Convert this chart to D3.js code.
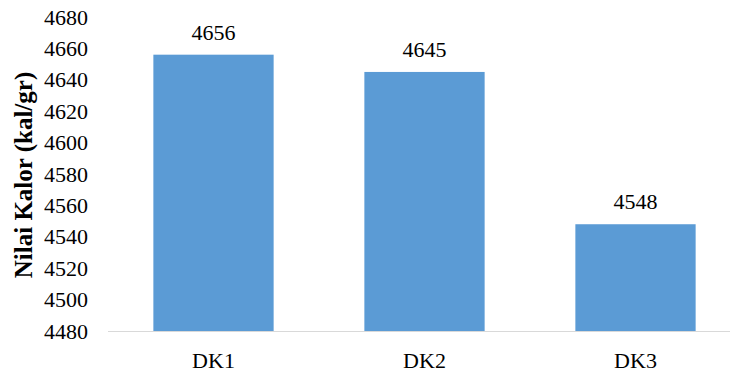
<!DOCTYPE html>
<html>
<head>
<meta charset="utf-8">
<script src="https://cdn.jsdelivr.net/npm/d3@7"></script>
<style>
  html, body { margin: 0; padding: 0; background: #fff; }
  svg { display: block; }
</style>
</head>
<body>
<svg id="chart" width="730" height="374"></svg>
<script>
// Calorific value per sample
const categories = ["DK1", "DK2", "DK3"];
const values = [4656, 4645, 4548];
const yTicks = [4480, 4500, 4520, 4540, 4560, 4580, 4600, 4620, 4640, 4660, 4680];
const yTitle = "Nilai Kalor (kal/gr)";

const FONT = "'Liberation Serif', 'DejaVu Serif', serif";

const svg = d3.select("#chart");
const plotLeft = 108, plotRight = 741, plotTop = 17, plotBottom = 331;

const x = d3.scaleBand()
  .domain(categories)
  .range([plotLeft, plotRight])
  .paddingInner(0.43)
  .paddingOuter(0.215);

const y = d3.scaleLinear()
  .domain([4480, 4680])
  .range([plotBottom, plotTop]);

// Bars
svg.append("g")
  .selectAll("rect")
  .data(categories)
  .join("rect")
  .attr("x", d => x(d))
  .attr("width", x.bandwidth())
  .attr("y", (d, i) => y(values[i]))
  .attr("height", (d, i) => plotBottom - y(values[i]))
  .attr("fill", "#5B9BD5");

// Category axis line
svg.append("line")
  .attr("x1", plotLeft).attr("x2", 730)
  .attr("y1", plotBottom + 0.5).attr("y2", plotBottom + 0.5)
  .attr("stroke", "#d9d9d9")
  .attr("stroke-width", 1);

// Value axis labels
const yAxis = d3.axisLeft(y).tickValues(yTicks).tickSize(0).tickPadding(0).tickFormat(d3.format("d"));
const gy = svg.append("g").attr("transform", `translate(88,0)`).call(yAxis);
gy.select(".domain").remove();
gy.attr("font-family", null).attr("font-size", null);
gy.selectAll("text")
  .style("font-family", FONT)
  .style("font-size", "22px")
  .style("fill", "#000");

// Category labels
const xAxis = d3.axisBottom(x).tickSize(0).tickPadding(0);
const gx = svg.append("g").attr("transform", `translate(0,${plotBottom})`).call(xAxis);
gx.select(".domain").remove();
gx.attr("font-family", null).attr("font-size", null);
gx.selectAll("text")
  .attr("dy", null)
  .attr("y", 37)
  .style("font-family", FONT)
  .style("font-size", "22px")
  .style("fill", "#000");

// Value labels above bars
svg.append("g")
  .selectAll("text")
  .data(categories)
  .join("text")
  .attr("x", d => x(d) + x.bandwidth() / 2)
  .attr("y", (d, i) => y(values[i]) - 15)
  .attr("text-anchor", "middle")
  .style("font-family", FONT)
  .style("font-size", "22px")
  .style("fill", "#000")
  .text((d, i) => values[i]);

// Axis title
svg.append("text")
  .attr("transform", `translate(32,175) rotate(-90)`)
  .attr("text-anchor", "middle")
  .style("font-family", FONT)
  .style("font-size", "25px")
  .style("font-weight", "bold")
  .style("fill", "#000")
  .text(yTitle);
</script>
</body>
</html>
